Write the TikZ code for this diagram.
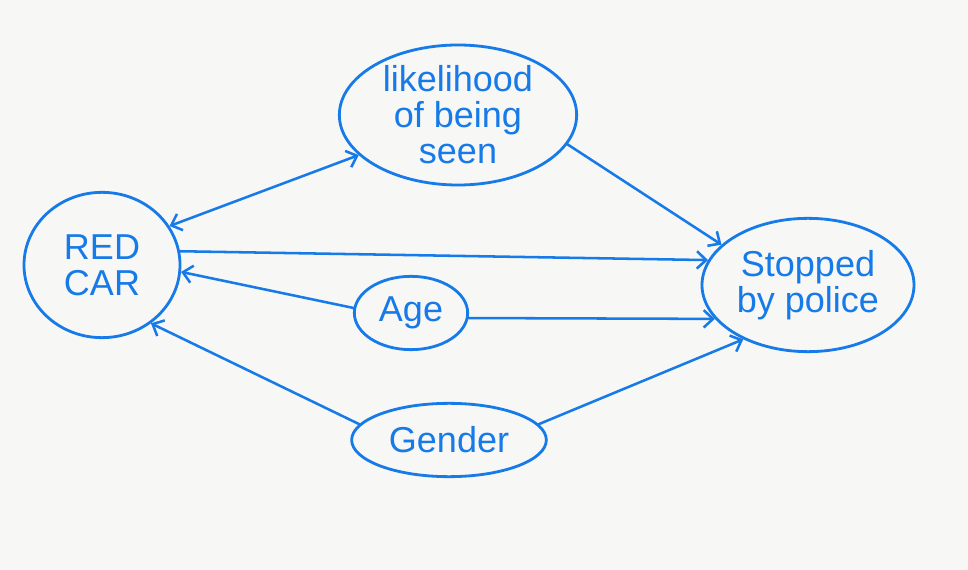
\documentclass[tikz,border=0pt]{standalone}
\usepackage{fontspec}
\setmainfont{Liberation Sans}
\usetikzlibrary{shapes.geometric,arrows.meta}
\definecolor{ink}{RGB}{22,122,232}
\definecolor{paper}{RGB}{247,247,245}
\begin{document}
\begin{tikzpicture}[x=0.75pt,y=-0.75pt,
  bubble/.style={ellipse,draw=ink,line width=2.1pt,inner sep=0pt,text=ink,align=center,font=\fontsize{27}{27}\selectfont},
  tip/.style={Straight Barb[length=7pt,width=13pt,line width=1.9pt]},
  link/.style={draw=ink,line width=1.9pt,line cap=round,-{Straight Barb[length=7pt,width=13pt,line width=1.9pt]}},
  link2/.style={draw=ink,line width=1.9pt,line cap=round,{Straight Barb[length=7pt,width=13pt,line width=1.9pt]}-{Straight Barb[length=7pt,width=13pt,line width=1.9pt]}}]
\fill[paper] (0,0) rectangle (968,570);
\useasboundingbox (0,0) rectangle (968,570);
\node[bubble,minimum width=117pt,minimum height=109pt] (red) at (102,265) {RED\\CAR};
\node[bubble,minimum width=178pt,minimum height=105pt] (lik) at (458,115) {likelihood\\of being\\seen};
\node[bubble,minimum width=159pt,minimum height=100pt] (stop) at (808,285) {Stopped\\by police};
\node[bubble,minimum width=85pt,minimum height=55pt] (age) at (411,313) {Age};
\node[bubble,minimum width=146pt,minimum height=55pt] (gen) at (449,440) {Gender};
\draw[link2] (red.30) -- (lik.202);
\draw[link] (red.10) -- (stop.166);
\draw[link] (age.175) -- (red.-5);
\draw[link] (age.-5) -- (stop.200);
\draw[link] (gen.170) -- (red.-50);
\draw[link] (gen.10) -- (stop.220);
\draw[link] (lik.-15) -- (stop.155);
\end{tikzpicture}
\end{document}
